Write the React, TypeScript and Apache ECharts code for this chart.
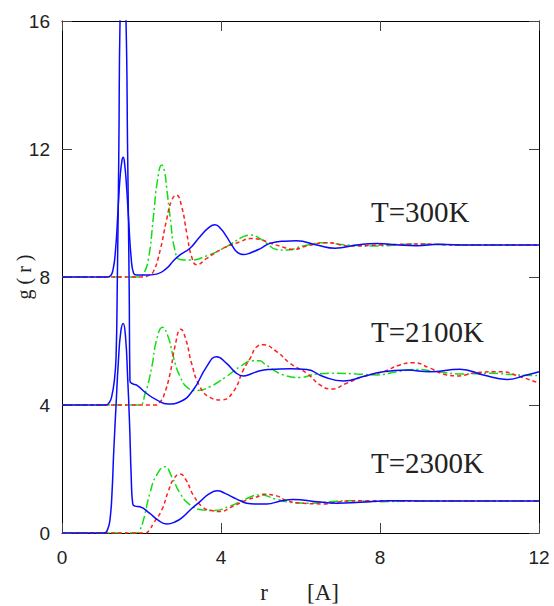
import React, { useEffect, useRef } from "react";
import * as echarts from "echarts";

// g(r) curves (values relative to each curve's own baseline)
const OFFSETS = [8, 4, 0];
const LABELS = ["T=300K", "T=2100K", "T=2300K"];
const X_TICKS = [0, 4, 8, 12];
const Y_TICKS = [0, 4, 8, 12, 16];

const blue300: number[][] = [
  [0, 0], [1.12, 0], [1.2, 0.02], [1.28, 0.2], [1.35, 0.9], [1.41, 2.1], [1.46, 3.1], [1.51, 3.65], [1.54, 3.74],
  [1.57, 3.6], [1.62, 2.9], [1.68, 1.7], [1.74, 0.6], [1.8, 0.12], [1.88, 0.06], [2.1, 0.06], [2.38, 0.09],
  [2.63, 0.27], [2.8, 0.5], [2.97, 0.69], [3.22, 0.9], [3.47, 1.26], [3.7, 1.55], [3.85, 1.63], [4.0, 1.5],
  [4.14, 1.26], [4.28, 0.98], [4.42, 0.76], [4.56, 0.7], [4.75, 0.76], [4.98, 0.88], [5.23, 1.05], [5.6, 1.12],
  [5.9, 1.13], [6.41, 1.0], [6.87, 0.9], [7.41, 1.0], [7.92, 1.05], [8.4, 1.01], [8.92, 0.98], [9.5, 1.02],
  [10.2, 1.0], [11, 1.0], [12, 1.0],
];
const green300: number[][] = [
  [0, 0], [1.95, 0], [2.05, 0.1], [2.17, 0.53], [2.3, 1.88], [2.4, 3.0], [2.51, 3.5], [2.58, 3.3], [2.63, 2.82],
  [2.72, 1.88], [2.84, 0.84], [2.97, 0.55], [3.22, 0.53], [3.64, 0.66], [4.14, 0.95], [4.56, 1.26], [4.75, 1.31],
  [4.98, 1.2], [5.15, 1.05], [5.4, 0.86], [5.65, 0.84], [6.07, 0.97], [6.57, 1.07], [7.16, 1.0], [7.92, 0.97],
  [8.92, 1.03], [10, 1.0], [12, 1.0],
];
const red300: number[][] = [
  [0, 0], [2.05, 0], [2.18, 0.05], [2.3, 0.17], [2.47, 0.84], [2.63, 1.78], [2.76, 2.4], [2.88, 2.56], [3.01, 2.2],
  [3.14, 1.36], [3.26, 0.64], [3.39, 0.38], [3.64, 0.58], [4.06, 0.9], [4.48, 1.1], [4.73, 1.2], [4.98, 1.18],
  [5.15, 1.1], [5.57, 0.93], [5.82, 0.86], [6.16, 0.97], [6.66, 1.07], [7.25, 0.97], [8.0, 1.0], [9.08, 1.03],
  [10, 1.0], [12, 1.0],
];

const blue2100: number[][] = [
  [0, 0], [1.1, 0], [1.19, 0.08], [1.25, 0.26], [1.32, 0.8], [1.36, 1.5], [1.39, 3.7], [1.43, 8], [1.46, 12],
  [1.54, 14], [1.61, 12], [1.65, 8], [1.69, 3.7], [1.71, 0.75], [1.78, 0.66], [1.88, 0.62], [2.13, 0.36],
  [2.38, 0.16], [2.67, 0.03], [2.97, 0.1], [3.3, 0.47], [3.64, 1.2], [3.89, 1.51], [4.14, 1.3], [4.39, 0.99],
  [4.56, 0.91], [4.75, 0.97], [4.98, 1.07], [5.23, 1.11], [5.74, 1.13], [6.16, 1.11], [6.57, 0.89], [7.08, 0.75],
  [7.58, 0.89], [8.08, 1.04], [8.67, 1.09], [9.26, 1.04], [10.01, 1.12], [10.6, 0.94], [11.19, 0.8],
  [11.69, 0.94], [12, 1.04],
];
const green2100: number[][] = [
  [0, 0], [1.93, 0], [2.09, 0.36], [2.26, 1.2], [2.38, 2.03], [2.53, 2.43], [2.67, 2.13], [2.8, 1.51],
  [2.97, 0.89], [3.18, 0.52], [3.39, 0.45], [3.72, 0.57], [4.14, 0.89], [4.48, 1.2], [4.81, 1.38], [4.98, 1.38],
  [5.1, 1.28], [5.57, 0.94], [5.99, 0.86], [6.41, 0.97], [6.91, 0.99], [7.41, 0.97], [7.92, 0.94], [8.42, 1.04],
  [8.92, 1.11], [9.43, 1.04], [10.1, 0.97], [10.77, 0.99], [11.44, 0.94], [12, 0.92],
];
const red2100: number[][] = [
  [0, 0], [2.35, 0], [2.45, 0.08], [2.55, 0.26], [2.72, 0.99], [2.84, 1.82], [2.99, 2.37], [3.12, 2.03],
  [3.26, 1.3], [3.47, 0.57], [3.72, 0.24], [4.02, 0.16], [4.31, 0.42], [4.56, 1.09], [4.73, 1.45], [4.9, 1.82],
  [5.06, 1.88], [5.4, 1.67], [5.74, 1.3], [6.16, 0.99], [6.49, 0.63], [6.78, 0.5], [7.16, 0.68], [7.58, 0.89],
  [8.08, 1.04], [8.5, 1.25], [8.84, 1.32], [9.26, 1.15], [9.68, 0.94], [9.93, 0.91], [10.43, 1.01],
  [11.02, 1.04], [11.52, 0.89], [12, 0.68],
];

const blue2300: number[][] = [
  [0, 0], [1.06, 0], [1.15, 0.12], [1.21, 0.45], [1.26, 1.3], [1.3, 2.5], [1.36, 4.0], [1.42, 5.4], [1.48, 6.3],
  [1.54, 6.55], [1.6, 6.1], [1.65, 4.9], [1.7, 3.4], [1.74, 1.8], [1.78, 0.9], [1.84, 0.84], [1.96, 0.82],
  [2.21, 0.61], [2.4, 0.42], [2.63, 0.28], [2.85, 0.35], [3.05, 0.51], [3.25, 0.75], [3.47, 0.98], [3.7, 1.22],
  [3.91, 1.32], [4.1, 1.24], [4.31, 1.11], [4.5, 1.0], [4.65, 0.93], [4.85, 0.91], [5.15, 0.91], [5.5, 1.0],
  [5.82, 1.05], [6.41, 0.98], [6.91, 0.93], [7.5, 0.96], [8.25, 1.01], [9, 1.0], [10, 1.0], [12, 1.0],
];
const green2300: number[][] = [
  [0, 0], [1.85, 0], [1.95, 0.08], [2.05, 0.41], [2.21, 1.24], [2.38, 1.81], [2.59, 2.07], [2.76, 1.76],
  [2.97, 1.24], [3.22, 0.88], [3.55, 0.72], [3.81, 0.7], [4.23, 0.84], [4.65, 1.08], [4.98, 1.19], [5.4, 1.05],
  [5.82, 0.95], [6.24, 0.93], [6.74, 0.98], [7.25, 1.01], [8, 0.98], [9, 1.0], [12, 1.0],
];
const red2300: number[][] = [
  [0, 0], [2.1, 0], [2.2, 0.1], [2.3, 0.3], [2.51, 0.72], [2.67, 1.29], [2.82, 1.71], [2.97, 1.84], [3.12, 1.66],
  [3.3, 1.19], [3.55, 0.8], [3.81, 0.69], [3.97, 0.67], [4.31, 0.84], [4.65, 1.03], [4.98, 1.16], [5.06, 1.21],
  [5.4, 1.16], [5.65, 1.01], [6.07, 0.93], [6.57, 0.91], [7.0, 0.98], [7.7, 1.01], [9, 1.0], [12, 1.0],
];

const GROUPS = [
  { blue: blue300, green: green300, red: red300 },
  { blue: blue2100, green: green2100, red: red2100 },
  { blue: blue2300, green: green2300, red: red2300 },
];

const BLUE = "#0a0aff";
const GREEN = "#12dd12";
const RED = "#ff1f1f";

export default function App() {
  const ref = useRef<HTMLDivElement>(null);
  useEffect(() => {
    if (!ref.current) return;
    const chart = echarts.init(ref.current, null, { renderer: "svg" });
    const shift = (d: number[][], off: number) => d.map((p) => [p[0], p[1] + off]);
    const series: any[] = [];
    GROUPS.forEach((g, i) => {
      const off = OFFSETS[i];
      const mk = (data: number[][], color: string, type: any, name: string) => ({
        type: "line",
        name,
        data: shift(data, off),
        showSymbol: false,
        symbol: "none",
        smooth: 0.5,
        clip: true,
        lineStyle: { color, width: 1.5, type },
        z: color === BLUE ? 3 : 2,
      });
      series.push(mk(g.green, GREEN, [9, 3, 2, 3], LABELS[i] + " green"));
      series.push(mk(g.red, RED, [4, 3], LABELS[i] + " red"));
      series.push(mk(g.blue, BLUE, "solid", LABELS[i] + " blue"));
    });
    const axisCommon = {
      axisLine: { show: true, onZero: false, lineStyle: { color: "#000", width: 1 } },
      axisTick: { show: true, inside: true, length: 10, lineStyle: { color: "#444", width: 1 } },
      splitLine: { show: false },
    };
    const labelStyle = { fontFamily: "Liberation Sans", fontSize: 19, color: "#222" };
    chart.setOption({
      animation: false,
      backgroundColor: "#fff",
      grid: { left: 62, right: 15, top: 21, bottom: 73, containLabel: false },
      xAxis: [
        {
          type: "value", min: X_TICKS[0], max: X_TICKS[X_TICKS.length - 1], interval: 4, position: "bottom",
          ...axisCommon,
          axisLabel: { ...labelStyle, margin: 15, formatter: (v: number) => (X_TICKS.includes(v) ? String(v) : "") },
        },
        {
          type: "value", min: 0, max: 12, interval: 4, position: "top",
          ...axisCommon, axisLabel: { show: false },
        },
      ],
      yAxis: [
        {
          type: "value", min: Y_TICKS[0], max: Y_TICKS[Y_TICKS.length - 1], interval: 4, position: "left",
          ...axisCommon,
          axisLabel: { ...labelStyle, margin: 12, formatter: (v: number) => (Y_TICKS.includes(v) ? String(v) : "") },
        },
        {
          type: "value", min: 0, max: 16, interval: 4, position: "right",
          ...axisCommon, axisLabel: { show: false },
        },
      ],
      series,
      graphic: [
        ...LABELS.map((t, i) => ({
          type: "text",
          x: 371,
          y: [212, 332, 463][i],
          style: { text: t, fontFamily: "Liberation Serif", fontSize: 29, fill: "#222", align: "left", verticalAlign: "middle" },
        })),
        {
          type: "text", x: 24, y: 277, rotation: Math.PI / 2,
          style: { text: "g ( r )", fontFamily: "Liberation Serif", fontSize: 20, fill: "#222", align: "center", verticalAlign: "middle" },
        },
        {
          type: "text", x: 264, y: 592,
          style: { text: "r", fontFamily: "Liberation Serif", fontSize: 23, fill: "#222", align: "center", verticalAlign: "middle" },
        },
        {
          type: "text", x: 323, y: 592,
          style: { text: "[A]", fontFamily: "Liberation Serif", fontSize: 23, fill: "#222", align: "center", verticalAlign: "middle" },
        },
      ],
    });
    return () => chart.dispose();
  }, []);
  return <div ref={ref} style={{ position: "absolute", left: 0, top: 0, width: 554, height: 606 }} />;
}
